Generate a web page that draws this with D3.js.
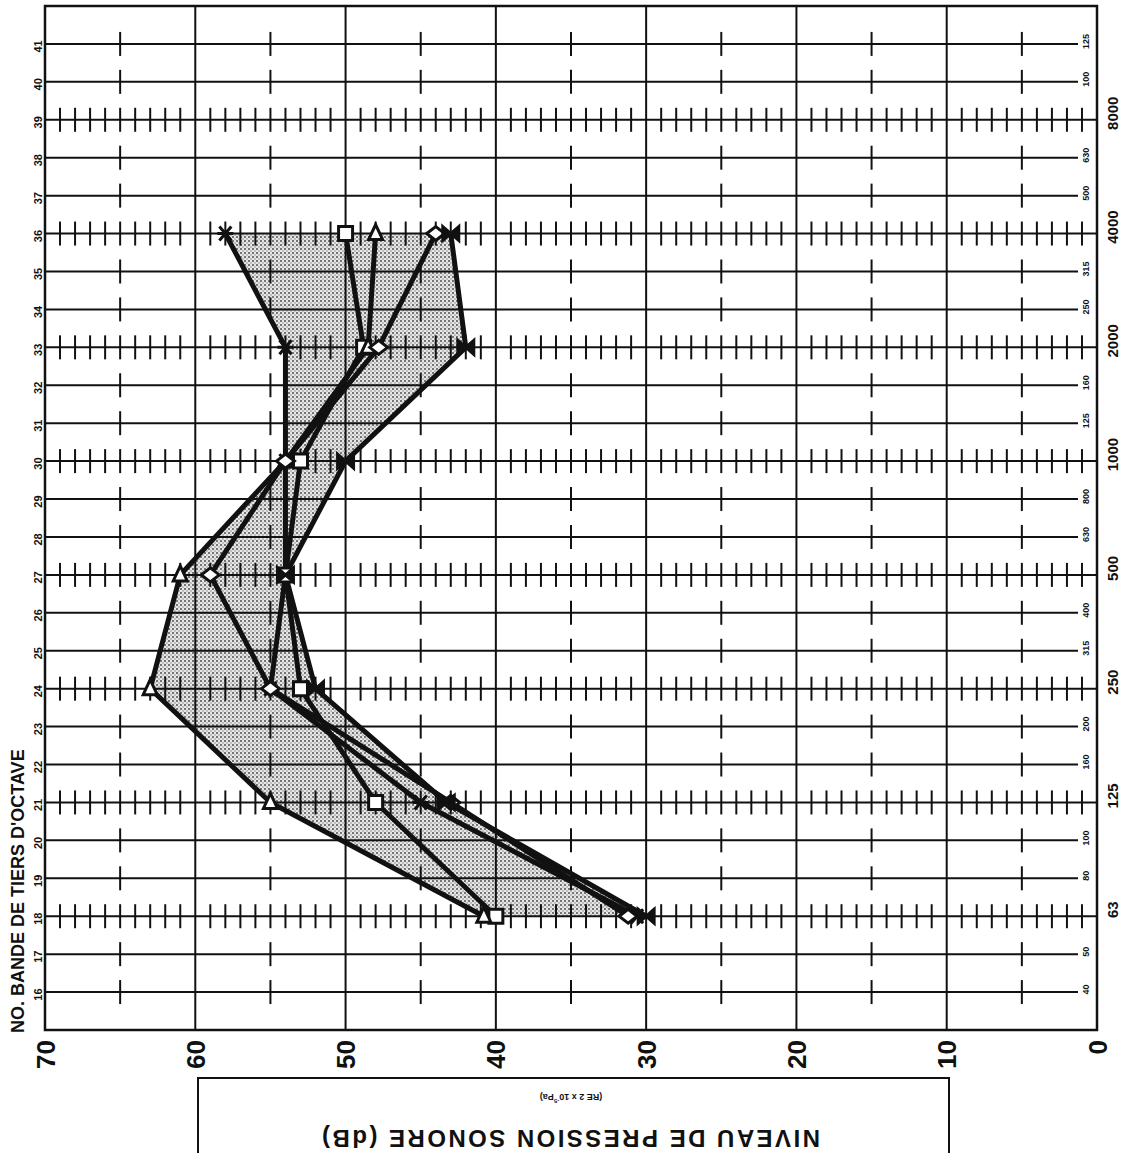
<!DOCTYPE html>
<html>
<head>
<meta charset="utf-8">
<script src="https://cdn.jsdelivr.net/npm/d3@7"></script>
<style>
body{margin:0;background:#fff;}
svg text{font-family:"Liberation Sans",Arial,sans-serif;font-weight:bold;fill:#111;}
</style>
</head>
<body>
<div id="content"></div>
<script>
// niveaux (dB) - axe horizontal, inversé
const levelTicks = [70, 60, 50, 40, 30, 20, 10, 0];
// bandes de tiers d'octave
const bandNumbers = [16,17,18,19,20,21,22,23,24,25,26,27,28,29,30,31,32,33,34,35,36,37,38,39,40,41];
const octaveBands = [18, 21, 24, 27, 30, 33, 36, 39];
const octaveLabels = ["63", "125", "250", "500", "1000", "2000", "4000", "8000"];
const thirdBands = [16,17,19,20,22,23,25,26,28,29,31,32,34,35,37,38,40,41];
const thirdLabels = ["40","50","80","100","160","200","315","400","630","800","125","160","250","315","500","630","100","125"];

// mesures aux bandes d'octave
const dataBands = [18, 21, 24, 27, 30, 33, 36];
const seriesAsterisk = [30.6, 45, 55, 54, 54, 54, 58];
const seriesSquare   = [40, 48, 53, 54, 53, 48.8, 50];
const seriesTriangle = [40.8, 55, 63, 61, 54, 48.5, 48];
const seriesDiamond  = [31.2, 43, 55, 59, 54, 47.8, 44];
const seriesBowtie   = [30, 43.3, 52, 54, 50, 42, 43];

const w = 1121, h = 1153;
const x = d3.scaleLinear().domain([70, 0]).range([45, 1097]);
const y = d3.scaleLinear().domain([15, 42]).range([1030, 6]);

const svg = d3.select("#content").append("svg").attr("width", w).attr("height", h);

// motif pointillé pour la zone ombrée
const defs = svg.append("defs");
const pat = defs.append("pattern").attr("id", "dots").attr("patternUnits", "userSpaceOnUse")
  .attr("width", 4).attr("height", 4);
pat.append("rect").attr("width", 4).attr("height", 4).attr("fill", "#e6e6e6");
pat.append("circle").attr("cx", 1).attr("cy", 1).attr("r", 0.95).attr("fill", "#444");
pat.append("circle").attr("cx", 3).attr("cy", 3).attr("r", 0.7).attr("fill", "#777");

const allSeries = [
  {vals: seriesAsterisk, marker: "asterisk"},
  {vals: seriesSquare, marker: "square"},
  {vals: seriesTriangle, marker: "triangle"},
  {vals: seriesDiamond, marker: "diamond"},
  {vals: seriesBowtie, marker: "bowtie"}
];

// enveloppe min / max
const envelope = dataBands.map((b, i) => ({
  b: b,
  hi: d3.max(allSeries, s => s.vals[i]),
  lo: d3.min(allSeries, s => s.vals[i])
}));
svg.append("path").datum(envelope)
  .attr("d", d3.area().y(d => y(d.b)).x0(d => x(d.hi)).x1(d => x(d.lo)))
  .attr("fill", "url(#dots)");

// grille
const grid = svg.append("g").attr("stroke", "#111").attr("stroke-width", 2);
grid.selectAll(".vline").data(levelTicks.filter(d => d != 70 && d != 0)).enter().append("line")
  .attr("x1", d => x(d)).attr("x2", d => x(d)).attr("y1", y(42)).attr("y2", y(15));
grid.selectAll(".oct").data(octaveBands).enter().append("line")
  .attr("x1", x(70)).attr("x2", x(0)).attr("y1", d => y(d)).attr("y2", d => y(d));
grid.selectAll(".third").data(thirdBands).enter().append("line")
  .attr("x1", x(70)).attr("x2", 1078).attr("y1", d => y(d)).attr("y2", d => y(d));

const minorTicks = x.ticks(70).filter(d => d % 10 != 0);
const fiveTicks = x.ticks(14).filter(d => d % 10 != 0);
octaveBands.forEach(b => {
  grid.append("g").selectAll("line").data(minorTicks).enter().append("line")
    .attr("x1", d => x(d)).attr("x2", d => x(d))
    .attr("y1", y(b) - 12).attr("y2", y(b) + 12);
});
thirdBands.forEach(b => {
  grid.append("g").selectAll("line").data(fiveTicks).enter().append("line")
    .attr("x1", d => x(d)).attr("x2", d => x(d))
    .attr("y1", y(b) - 12).attr("y2", y(b) + 12);
});

svg.append("rect").attr("x", x(70)).attr("y", y(42))
  .attr("width", x(0) - x(70)).attr("height", y(15) - y(42))
  .attr("fill", "none").attr("stroke", "#111").attr("stroke-width", 2.5);

// courbes
const line = d3.line().x(d => x(d.v)).y(d => y(d.b));
const markerPaths = {
  asterisk: "M-8,0L8,0M-6,-7L6,7M6,-7L-6,7",
  square: "M-7,-7L7,-7L7,7L-7,7Z",
  triangle: "M0,-9L7,6L-7,6Z",
  diamond: "M-9,0L0,-7L9,0L0,7Z",
  bowtie: "M-8,-7L0,0L-8,7ZM8,-7L0,0L8,7Z"
};
allSeries.forEach(s => {
  const pts = dataBands.map((b, i) => ({b: b, v: s.vals[i]}));
  svg.append("path").datum(pts).attr("d", line)
    .attr("fill", "none").attr("stroke", "#111").attr("stroke-width", 5)
    .attr("stroke-linejoin", "round");
});
allSeries.forEach(s => {
  const pts = dataBands.map((b, i) => ({b: b, v: s.vals[i]}));
  svg.append("g").selectAll("path").data(pts).enter().append("path")
    .attr("transform", d => `translate(${x(d.v)},${y(d.b)})`)
    .attr("d", markerPaths[s.marker])
    .attr("fill", s.marker == "bowtie" ? "#111" : (s.marker == "asterisk" ? "none" : "#fff"))
    .attr("stroke", "#111").attr("stroke-width", 3).attr("stroke-linejoin", "miter");
});

// axe du bas
const xAxis = d3.axisBottom(x).tickValues(levelTicks).tickSize(0).tickFormat(d => d);
const gx = svg.append("g").attr("transform", "translate(0,1040)").call(xAxis);
gx.select(".domain").remove();
gx.attr("font-size", 26).attr("font-family", null);
gx.selectAll("text").attr("y", null).attr("dy", null)
  .attr("transform", "rotate(-90)").attr("text-anchor", "end")
  .attr("dominant-baseline", "central");

// numéros de bande à gauche
const yAxis = d3.axisLeft(y).tickValues(bandNumbers).tickSize(0);
const gy = svg.append("g").attr("transform", "translate(38,0)").call(yAxis);
gy.select(".domain").remove();
gy.attr("font-size", 11).attr("font-family", null);
gy.selectAll("text").attr("x", null).attr("dy", null)
  .attr("transform", "translate(0,2) rotate(-90)").attr("text-anchor", "middle")
  .attr("dominant-baseline", "central");

// fréquences à droite
const gr = svg.append("g").attr("transform", "translate(1112,0)")
  .call(d3.axisRight(y).tickValues(octaveBands).tickSize(0).tickFormat((d, i) => octaveLabels[i]));
gr.select(".domain").remove();
gr.attr("font-size", 15).attr("font-family", null);
gr.selectAll("text").attr("x", null).attr("dy", null)
  .attr("transform", "translate(0,-7) rotate(-90)").attr("text-anchor", "middle")
  .attr("dominant-baseline", "central");

const gs = svg.append("g").attr("transform", "translate(1086,0)")
  .call(d3.axisRight(y).tickValues(thirdBands).tickSize(0).tickFormat((d, i) => thirdLabels[i]));
gs.select(".domain").remove();
gs.attr("font-size", 9).attr("font-family", null);
gs.selectAll("text").attr("x", null).attr("dy", null)
  .attr("transform", "translate(0,-3) rotate(-90)").attr("text-anchor", "middle")
  .attr("dominant-baseline", "central");

// titre de l'axe vertical
svg.append("text").attr("transform", "translate(18,1033) rotate(-90)")
  .attr("font-size", 18).attr("text-anchor", "start").attr("dominant-baseline", "central")
  .text("NO. BANDE DE TIERS D'OCTAVE");

// cadre du titre (à l'envers)
svg.append("path").attr("d", "M198,1160L198,1078L949,1078L949,1160")
  .attr("fill", "none").attr("stroke", "#111").attr("stroke-width", 2);
svg.append("text").attr("transform", "translate(571,1138) rotate(180)")
  .attr("font-size", 24).attr("text-anchor", "middle").attr("dominant-baseline", "central")
  .attr("textLength", 498).attr("lengthAdjust", "spacing")
  .text("NIVEAU DE PRESSION SONORE (dB)");
const sub = svg.append("text").attr("transform", "translate(571,1097) rotate(180)")
  .attr("font-size", 9).attr("text-anchor", "middle").attr("dominant-baseline", "central");
sub.append("tspan").text("(RE 2 x 10");
sub.append("tspan").attr("font-size", 6).attr("dy", -4).text("-5");
sub.append("tspan").attr("dy", 4).text("Pa)");
</script>
</body>
</html>
